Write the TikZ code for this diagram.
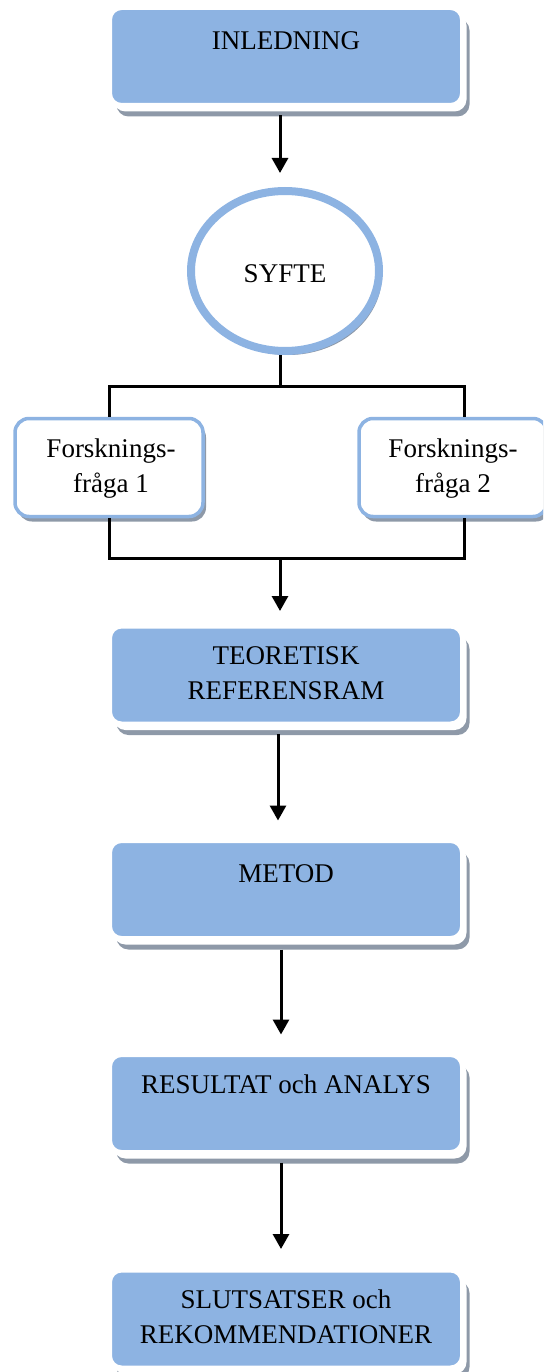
\documentclass[tikz,border=0pt]{standalone}
\usepackage{fontspec}
\setmainfont{Liberation Serif}
\usetikzlibrary{arrows.meta,shadows,shapes.geometric}

\definecolor{boxblue}{HTML}{8DB3E2}
\definecolor{shadowgray}{HTML}{8E99A8}

\tikzset{
  stagebox/.style={rectangle, rounded corners=12pt, fill=boxblue, draw=white,
    line width=5pt, minimum width=353pt, minimum height=98pt, inner sep=0pt,
    drop shadow={shadow xshift=7pt, shadow yshift=-11pt, fill=shadowgray, opacity=1},
    drop shadow={shadow xshift=4pt, shadow yshift=-6pt, fill=white, opacity=1}},
  questionbox/.style={rectangle, rounded corners=14pt, fill=white, draw=boxblue,
    line width=3.5pt, minimum width=188pt, minimum height=98pt, inner sep=0pt,
    drop shadow={shadow xshift=3pt, shadow yshift=-5pt, fill=shadowgray, opacity=1}},
  aimshape/.style={ellipse, fill=white, draw=boxblue, line width=8pt,
    minimum width=188pt, minimum height=160pt, inner sep=0pt,
    drop shadow={shadow xshift=3pt, shadow yshift=-4pt, fill=shadowgray, opacity=1}},
  % multi-line labels sit on the baseline of their last line
  label text/.style={anchor=base, align=center, inner sep=0pt,
    font=\fontsize{27}{34.5}\selectfont, text=black},
  flow/.style={line width=3pt, draw=black},
  flowarrow/.style={flow, -{Triangle[width=16pt,length=15pt]}},
}

\begin{document}
\begin{tikzpicture}[x=1pt, y=-1pt]
  \useasboundingbox (0,0) rectangle (543,1372);
  \clip (0,0) rectangle (543,1372);

  % main stages
  \node[stagebox] (inl)  at (286,56.5)  {};
  \node[aimshape] (syfte) at (285,271)  {};
  \node[questionbox] (fq1) at (109,467.5) {};
  \node[questionbox] (fq2) at (453,467.5) {};
  \node[stagebox] (teo)  at (286,675)   {};
  \node[stagebox] (met)  at (286,889.5) {};
  \node[stagebox] (res)  at (286,1103.5){};
  \node[stagebox] (slut) at (286,1319)  {};

  % texts
  \node[label text] (inlT)  at (286,50)   {INLEDNING};
  \node[label text] (syfteT) at (285,282) {SYFTE};
  \node[label text] (fq1T)  at (111,492)  {Forsknings-\\fråga 1};
  \node[label text] (fq2T)  at (453,492)  {Forsknings-\\fråga 2};
  \node[label text] (teoT)  at (286,699)  {TEORETISK\\REFERENSRAM};
  \node[label text] (metT)  at (286,882)  {METOD};
  \node[label text] (resT)  at (286,1093) {RESULTAT och ANALYS};
  \node[label text] (slutT) at (286,1343) {SLUTSATSER och\\REKOMMENDATIONER};

  % branching points
  \coordinate (split) at (280,386);
  \coordinate (merge) at (280,558);

  % connectors
  \draw[flowarrow, shorten <=7.5pt, shorten >=14pt]
    ([xshift=-6pt]inl.south) -- ([xshift=-5pt]syfte.north);
  \draw[flow] ([xshift=-5pt]syfte.south) -- (split);
  \draw[flow] (fq1.north) |- (split) -| ([xshift=11pt]fq2.north);
  \draw[flow] (fq1.south) |- (merge) -| ([xshift=11pt]fq2.south);
  \draw[flowarrow, shorten >=12.5pt] (merge) -- (merge |- teo.north);
  \draw[flowarrow, shorten <=7.5pt, shorten >=17.5pt]
    ([xshift=-8pt]teo.south) -- ([xshift=-8pt]met.north);
  \draw[flowarrow, shorten <=8.5pt, shorten >=17.5pt]
    ([xshift=-5pt]met.south) -- ([xshift=-5pt]res.north);
  \draw[flowarrow, shorten <=7.5pt, shorten >=18.5pt]
    ([xshift=-5pt]res.south) -- ([xshift=-5pt]slut.north);
\end{tikzpicture}
\end{document}
